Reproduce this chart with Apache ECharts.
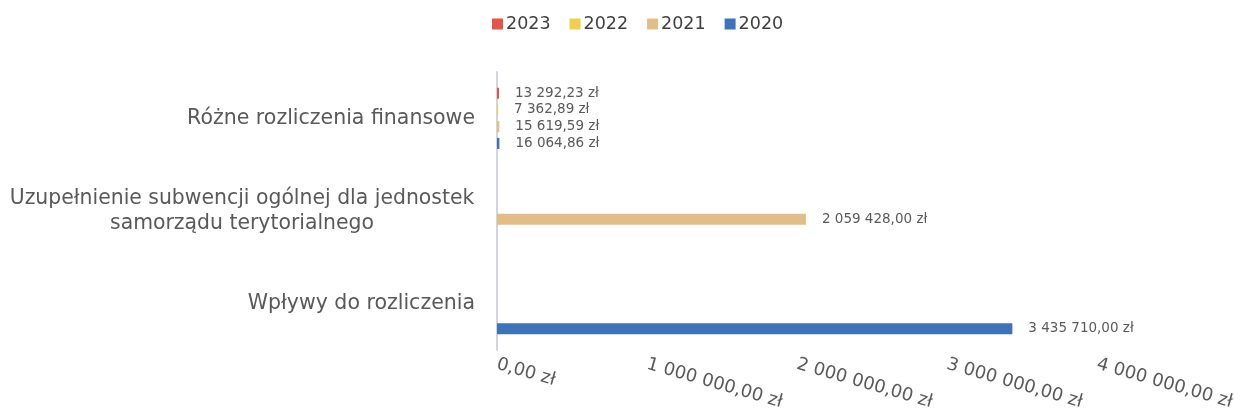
<!DOCTYPE html>
<html>
<head>
<meta charset="utf-8">
<script src="https://cdn.jsdelivr.net/npm/echarts@6/dist/echarts.min.js"></script>
<style>html,body{margin:0;padding:0;background:#fff;}#c{width:1234px;height:416px;}</style>
</head>
<body>
<div id="c"></div>
<script>
const categories = ['Różne rozliczenia finansowe', 'Uzupełnienie subwencji ogólnej dla jednostek\nsamorządu terytorialnego', 'Wpływy do rozliczenia'];
const seriesNames = ['2023', '2022', '2021', '2020'];
const values2023 = [13292.23, null, null];
const values2022 = [7362.89, null, null];
const values2021 = [15619.59, 2059428.00, null];
const values2020 = [16064.86, null, 3435710.00];
const xTicks = [0, 1000000, 2000000, 3000000, 4000000];

function fmt(v) {
  const s = Number(v).toFixed(2).split('.');
  return s[0].replace(/\B(?=(\d{3})+(?!\d))/g, ' ') + ',' + s[1] + ' zł';
}
const colors = ['#E5534B', '#F2CF4A', '#E3BD86', '#3D73B8'];
const allValues = [values2023, values2022, values2021, values2020];
const FONT = 'DejaVu Sans';
const chart = echarts.init(document.getElementById('c'), null, {renderer: 'canvas'});
chart.setOption({
  animation: false,
  textStyle: {fontFamily: FONT},
  legend: {
    top: 10, left: 487, itemWidth: 11, itemHeight: 11, itemGap: 19,
    icon: 'rect',
    textStyle: {fontSize: 17.5, color: '#404040', fontFamily: FONT, padding: [0, 0, 0, -2]},
    data: seriesNames
  },
  grid: {left: 497, top: 72, width: 600, height: 278, containLabel: false, outerBoundsMode: 'none'},
  xAxis: {
    type: 'value', min: xTicks[0], max: xTicks[xTicks.length - 1], interval: 1000000,
    axisLine: {show: false}, axisTick: {show: false}, splitLine: {show: false},
    axisLabel: {rotate: -16, margin: 14, fontSize: 18, color: '#595959', fontFamily: FONT, formatter: fmt, hideOverlap: false}
  },
  yAxis: {
    type: 'category', inverse: true, data: categories,
    axisLine: {show: true, lineStyle: {color: '#d4d4de', width: 2}},
    axisTick: {show: false},
    axisLabel: {
      fontSize: 20.5, color: '#595959', fontFamily: FONT, margin: 22, align: 'right',
      formatter: v => v.indexOf('\n') >= 0
        ? v.split('\n').map(l => '{c|' + l + '}').join('\n')
        : '{r|' + v + '}',
      rich: {
        c: {width: 466, align: 'center', fontSize: 20.4, lineHeight: 25, color: '#595959', fontFamily: FONT},
        r: {fontSize: 20.5, color: '#595959', fontFamily: FONT}
      }
    }
  },
  series: seriesNames.map((n, i) => ({
    name: n, type: 'bar', data: allValues[i],
    barWidth: 11, barGap: '52%',
    itemStyle: {color: colors[i]},
    label: {show: true, position: 'right', distance: 16, fontSize: 13.5, color: '#595959', fontFamily: FONT,
      formatter: p => p.value == null ? '' : fmt(p.value)}
  }))
});
</script>
</body>
</html>
